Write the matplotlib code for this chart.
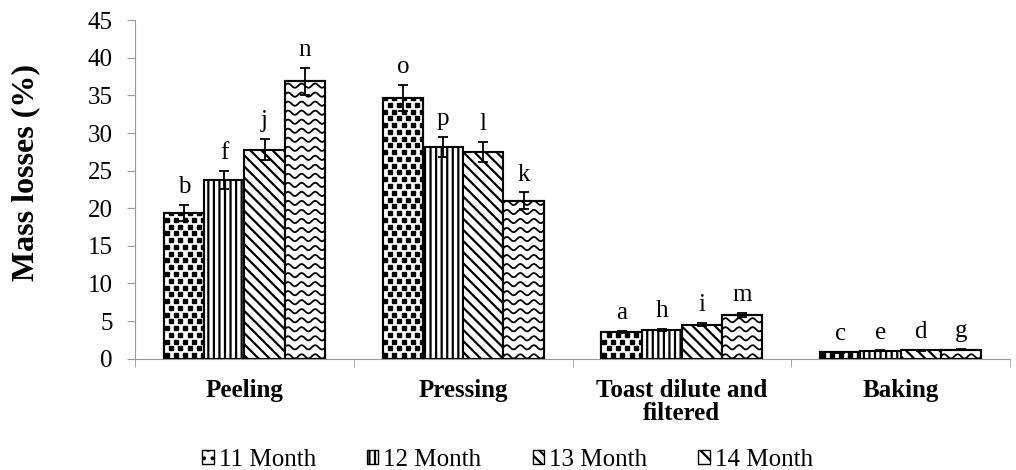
import numpy as np
import matplotlib
matplotlib.use("Agg")
import matplotlib.pyplot as plt
from matplotlib.patches import Patch

plt.rcParams["font.family"] = "Liberation Serif"
plt.rcParams["hatch.linewidth"] = 1.6

categories = ["Peeling", "Pressing", "Toast dilute and\nfiltered", "Baking"]
series_names = ["11 Month", "12 Month", "13 Month", "14 Month"]

# values per series, one entry per category
m11 = [19.4, 34.7, 3.5, 0.85]
m12 = [23.8, 28.1, 3.8, 1.05]
m13 = [27.8, 27.5, 4.5, 1.1]
m14 = [36.9, 21.0, 5.8, 1.2]
err11 = [1.05, 1.75, 0.15, 0.05]
err12 = [1.2, 1.35, 0.15, 0.05]
err13 = [1.45, 1.35, 0.2, 0.05]
err14 = [1.8, 1.1, 0.25, 0.05]
letters11 = ["b", "o", "a", "c"]
letters12 = ["f", "p", "h", "e"]
letters13 = ["j", "l", "i", "d"]
letters14 = ["n", "k", "m", "g"]

values = [m11, m12, m13, m14]
errors = [err11, err12, err13, err14]
letters = [letters11, letters12, letters13, letters14]
hatches = [None, "|||", "\\\\\\", None]

fig = plt.figure(figsize=(10.16, 4.70), dpi=100)
ax = fig.add_axes([0.133, 0.237, 0.861, 0.720])

x = np.arange(len(categories))
width = 0.184
bar_groups = []
for i in range(4):
    pos = x + (i - 1.5) * width
    bars = ax.bar(pos, values[i], width, color="white", edgecolor="black",
                  linewidth=1.5, hatch=hatches[i], zorder=2)
    ax.errorbar(pos, values[i], yerr=errors[i], fmt="none", ecolor="black",
                elinewidth=1.3, capsize=3.5, capthick=1.3, zorder=4)
    for p, v, e, t in zip(pos, values[i], errors[i], letters[i]):
        ax.text(p, v + e + 0.9, t, ha="center", va="bottom", fontsize=18)
    bar_groups.append(list(bars))

# square-dot fill for the 11 Month bars
for b in bar_groups[0]:
    x0 = b.get_x()
    for r, y0 in enumerate(np.arange(0.45, b.get_height() + 1.0, 0.9)):
        off = 0.0 if r % 2 == 0 else 0.021
        xs = np.arange(x0 + 0.012 + off, x0 + b.get_width() + 0.02, 0.042)
        ln, = ax.plot(xs, np.full(len(xs), y0), ls="none", marker="s",
                      ms=2.9, color="black", zorder=2.5)
        ln.set_clip_path(b)
    ax.bar(b.get_x() + b.get_width() / 2, b.get_height(), b.get_width(),
           facecolor="none", edgecolor="black", linewidth=1.5, zorder=3)

# wavy fill for the 14 Month bars
for b in bar_groups[3]:
    x0 = b.get_x()
    xs = np.linspace(x0 - 0.02, x0 + b.get_width() + 0.02, 80)
    wave = 0.28 * np.sin(2 * np.pi * (xs - x0) / 0.062)
    for y0 in np.arange(0.3, b.get_height() + 1.0, 1.2):
        ln, = ax.plot(xs, y0 + wave, color="black", lw=1.3, zorder=2.5)
        ln.set_clip_path(b)
    ax.bar(b.get_x() + b.get_width() / 2, b.get_height(), b.get_width(),
           facecolor="none", edgecolor="black", linewidth=1.5, zorder=3)

legend_hatches = ["..", "|||", "\\\\\\", "\\\\"]
handles = [Patch(facecolor="white", edgecolor="black", hatch=h, label=n)
           for h, n in zip(legend_hatches, series_names)]

ax.set_xlim(-0.5, 3.5)
ax.set_ylim(0, 45)
ax.set_yticks(np.arange(0, 46, 5))
ax.set_xticks(x)
ax.set_xticklabels(categories, fontsize=18, fontweight="bold", linespacing=1.0)
ax.set_xticks(np.arange(-0.5, 3.6, 1), minor=True)
ax.tick_params(axis="x", which="major", length=0, pad=15)
ax.tick_params(axis="x", which="minor", length=6, color="#999999")
ax.tick_params(axis="y", labelsize=18, length=6, color="#999999", pad=10)
ax.set_ylabel("Mass losses (%)", fontsize=23, fontweight="bold")
ax.yaxis.set_label_coords(-0.109, 0.551)
for s in ["top", "right"]:
    ax.spines[s].set_visible(False)
ax.spines["left"].set_color("#999999")
ax.spines["bottom"].set_color("#999999")

fig.legend(handles=handles, loc="lower left", bbox_to_anchor=(0.177, -0.05),
           ncol=4, frameon=False, fontsize=18, handlelength=0.45, handleheight=0.45,
           handletextpad=0.2, columnspacing=2.05)

fig.savefig("out.png", dpi=100)
